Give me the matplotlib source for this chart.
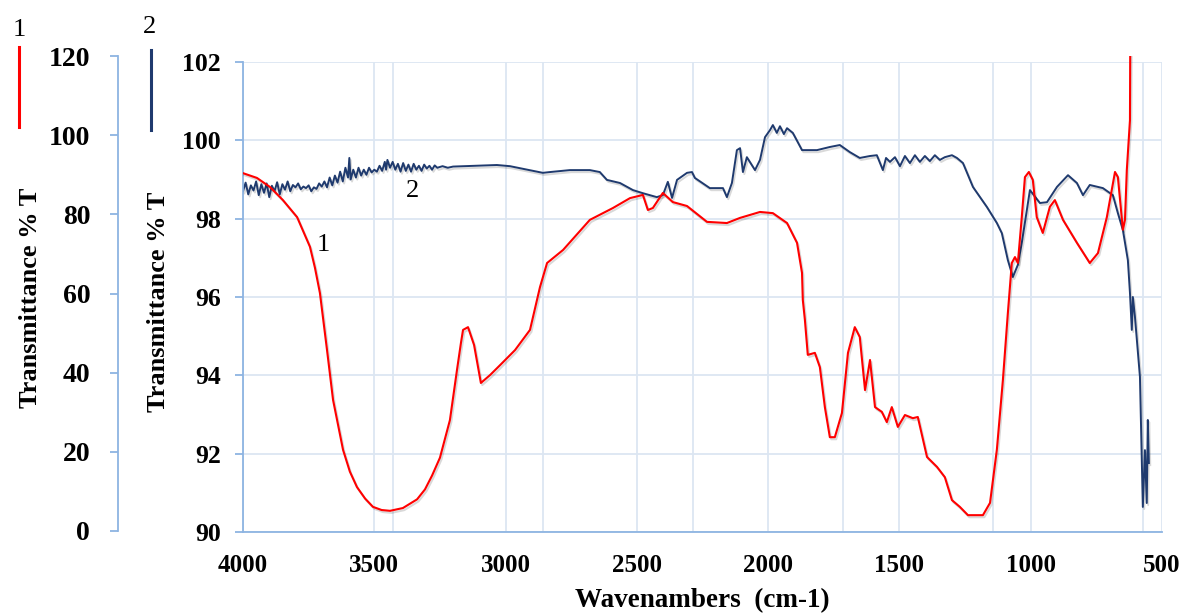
import matplotlib.pyplot as plt
import matplotlib.patheffects as pe
import numpy as np

plt.rcParams['font.family'] = ['Liberation Serif', 'DejaVu Serif']

# spectrum 1 (left axis, 0-120)
wn1 = [4000, 3947, 3897, 3848, 3794, 3745, 3726, 3707, 3680, 3657, 3619, 3593,
       3566, 3535, 3505, 3472, 3440, 3391, 3364, 3337, 3307, 3280, 3250, 3212,
       3185, 3170, 3162, 3143, 3120, 3094, 3059,
       3021, 2964, 2907, 2869, 2842, 2781, 2679, 2591, 2526, 2477, 2458, 2439,
       2401, 2363, 2309, 2233, 2157, 2107, 2031, 1982, 1928, 1890, 1871, 1868,
       1860, 1849, 1822, 1803, 1784, 1765, 1746, 1719, 1696, 1670, 1651, 1631,
       1612, 1593, 1567, 1548, 1529, 1506, 1479, 1449, 1430, 1395, 1357, 1327,
       1300, 1270, 1239, 1182, 1155, 1129, 1106, 1087, 1072, 1060, 1049, 1034,
       1022, 1007, 992, 977, 954, 927, 908, 877, 824, 775, 744, 710, 679, 668,
       649, 641, 634, 622, 621]
t1 = [90.4, 89.2, 86.9, 83.6, 79.3, 71.8, 66.5, 60.1, 45.7, 33.1, 20.5, 15.0,
      11.1, 8.2, 6.1, 5.3, 5.1, 5.8, 6.9, 8.0, 10.5, 14.0, 18.5, 28.0,
      40.7, 47.5, 50.8, 51.5, 47.0, 37.4, 39.4,
      41.9, 45.7, 50.8, 61.6, 67.7, 71.0, 78.6, 81.6, 84.1, 84.9, 81.1, 81.6,
      85.4, 83.1, 82.1, 78.1, 77.8, 79.1, 80.6, 80.3, 77.8, 72.8, 65.2, 58.4,
      53.3, 44.5, 45.0, 41.4, 31.3, 23.7, 23.7, 29.8, 45.0, 51.5, 49.0, 35.6,
      43.2, 31.3, 30.1, 27.5, 31.3, 26.3, 29.3, 28.5, 28.8, 18.7, 16.2, 13.6,
      7.8, 6.1, 4.0, 4.0, 7.1, 20.5, 38.1, 55.1, 67.7, 69.2, 67.7, 79.3,
      89.4, 90.7, 88.7, 79.3, 75.3, 81.9, 83.6, 78.6, 72.8, 67.7, 70.2, 79.3,
      90.7, 89.4, 76.1, 78.6, 91.2, 103.8, 122.0]

# spectrum 2 (right-hand scale, 90-102)
wn2 = [4000, 3990, 3980, 3970, 3960, 3950, 3940, 3930, 3920, 3910, 3900, 3890,
       3880, 3870, 3860, 3850, 3840, 3830, 3820, 3810, 3800, 3790, 3780, 3770,
       3760, 3750, 3740, 3730, 3720, 3710, 3700, 3690, 3680, 3670, 3660, 3650,
       3640, 3630, 3620, 3610, 3600, 3595, 3590, 3580, 3570, 3560, 3550, 3540,
       3530, 3520, 3510, 3500, 3490, 3480, 3470, 3460, 3455, 3450, 3440, 3430,
       3420, 3410, 3400, 3390, 3380, 3370, 3360, 3350, 3340, 3330, 3320, 3310,
       3300, 3290, 3280, 3270, 3260, 3240, 3220, 3200, 3033, 2983, 2858, 2831,
       2755, 2679, 2641, 2614, 2564, 2515, 2477, 2424, 2401, 2382, 2366, 2347,
       2309, 2290, 2279, 2222, 2172, 2157, 2138, 2119, 2107, 2096, 2081, 2050,
       2031, 2012, 1993, 1982, 1967, 1955, 1940, 1928, 1906, 1871, 1814, 1765,
       1727, 1689, 1651, 1612, 1586, 1574, 1563, 1551, 1536, 1517, 1498, 1479,
       1460, 1441, 1422, 1403, 1384, 1365, 1346, 1327, 1300, 1281, 1258, 1220,
       1167, 1129, 1110, 1087, 1068, 1049, 1034, 1003, 965, 938, 900, 858,
       824, 801, 775, 725, 687, 668, 649, 630, 622, 615, 611, 603,
       584, 577, 573, 565, 558, 554, 550]
t2 = [98.70, 98.92, 98.62, 98.85, 98.72, 98.95, 98.60, 98.88, 98.66, 98.90, 98.55, 98.84,
      98.70, 98.93, 98.62, 98.88, 98.74, 98.95, 98.70, 98.86, 98.80, 98.90, 98.75, 98.82,
      98.78, 98.85, 98.70, 98.80, 98.76, 98.90, 98.82, 98.95, 98.80, 99.05, 98.85, 99.10,
      98.92, 99.20, 98.95, 99.30, 99.05, 99.55, 99.00, 99.25, 99.05, 99.30, 99.10, 99.25,
      99.12, 99.30, 99.18, 99.25, 99.20, 99.35, 99.22, 99.45, 99.25, 99.50, 99.30, 99.45,
      99.25, 99.40, 99.20, 99.42, 99.22, 99.38, 99.20, 99.40, 99.25, 99.35, 99.22, 99.38,
      99.28, 99.35, 99.25, 99.36, 99.30, 99.34, 99.30, 99.33, 99.37, 99.34, 99.17, 99.19,
      99.24, 99.24, 99.19, 98.99, 98.91, 98.73, 98.65, 98.55, 98.60, 98.94, 98.53, 98.99,
      99.17, 99.19, 99.04, 98.78, 98.78, 98.55, 98.91, 99.75, 99.80, 99.19, 99.57, 99.24,
      99.50, 100.08, 100.26, 100.39, 100.19, 100.36, 100.16, 100.31, 100.19, 99.75, 99.75, 99.83,
      99.88, 99.70, 99.55, 99.60, 99.62, 99.42, 99.24, 99.55, 99.45, 99.57, 99.34, 99.60,
      99.42, 99.62, 99.45, 99.60, 99.47, 99.62, 99.50, 99.57, 99.62, 99.55, 99.42, 98.81,
      98.30, 97.89, 97.63, 96.94, 96.51, 96.82, 97.38, 98.73, 98.40, 98.42, 98.81, 99.11,
      98.91, 98.60, 98.86, 98.78, 98.60, 98.14, 97.71, 96.94, 96.10, 95.16, 96.00, 95.49,
      93.96, 91.91, 90.64, 92.09, 90.74, 92.86, 91.76]

x_ticks = [4000, 3500, 3000, 2500, 2000, 1500, 1000, 500]
x_grid2 = [3429, 2858, 2287, 1716, 1145, 574]
y1_ticks = [0, 20, 40, 60, 80, 100, 120]
y2_ticks = [90, 92, 94, 96, 98, 100, 102]

RED = '#ff0000'
NAVY = '#1f3a6e'
AXIS_BLUE = '#8db4e2'
GRID_BLUE = '#dce6f2'

fig = plt.figure(figsize=(11.85, 6.16), dpi=100)
W, H = 1185, 616
left, right = 243, 1162

# main axes (scale 90-102) with the grid
ax2 = fig.add_axes([left / W, 1 - 532 / H, (right - left) / W, (532 - 62) / H])
ax2.set_xlim(4000, 500)
ax2.set_ylim(90, 102)
ax2.set_xticks(x_ticks)
ax2.set_xticks(x_grid2, minor=True)
ax2.set_yticks(y2_ticks)
ax2.grid(True, which='major', color=GRID_BLUE, lw=1.3)
ax2.grid(True, which='minor', axis='x', color=GRID_BLUE, lw=1.3)
ax2.set_axisbelow(True)
for s in ['top', 'right']:
    ax2.spines[s].set_visible(False)
for s in ['left', 'bottom']:
    ax2.spines[s].set_color(AXIS_BLUE)
    ax2.spines[s].set_linewidth(1.3)
ax2.tick_params(axis='x', which='both', length=0, pad=16, labelsize=18)
ax2.tick_params(axis='y', length=6, width=1.3, color=AXIS_BLUE, pad=10, labelsize=18.5)
for lbl in ax2.get_xticklabels() + ax2.get_yticklabels():
    lbl.set_fontweight('bold')
ax2.set_xlabel('Wavenambers  (cm-1)', fontsize=19.5, fontweight='bold', labelpad=8)
ax2.set_ylabel('Transmittance % T', fontsize=19, fontweight='bold')
ax2.yaxis.set_label_coords(-0.079, 0.49)

shadow = [pe.SimpleLineShadow(offset=(1, -1.5), alpha=0.15, shadow_color='k'), pe.Normal()]
ax2.plot(wn2, t2, color=NAVY, lw=1.4, path_effects=shadow)

# spectrum 1 on its own 0-120 scale, axis pushed out to the left
ax1 = fig.add_axes([left / W, 1 - 531 / H, (right - left) / W, (531 - 56) / H])
ax1.patch.set_visible(False)
ax1.set_xlim(4000, 500)
ax1.set_ylim(0, 120)
ax1.set_yticks(y1_ticks)
ax1.set_xticks([])
for s in ['top', 'right', 'bottom']:
    ax1.spines[s].set_visible(False)
ax1.spines['left'].set_position(('axes', -0.136))
ax1.spines['left'].set_color(AXIS_BLUE)
ax1.spines['left'].set_linewidth(1.3)
ax1.tick_params(axis='y', length=6, width=1.3, color=AXIS_BLUE, pad=14, labelsize=20)
for lbl in ax1.get_yticklabels():
    lbl.set_fontweight('bold')
ax1.set_ylabel('Transmittance % T', fontsize=19, fontweight='bold')
ax1.yaxis.set_label_coords(-0.219, 0.49)
ax1.plot(wn1, t1, color=RED, lw=1.5, path_effects=shadow)

# curve numbers inside the plot
ax2.text(3695, 97.33, '1', fontsize=19, ha='center', va='center')
ax2.text(3355, 98.7, '2', fontsize=19, ha='center', va='center')

# series keys above the two axes
fig.text(19 / W, 1 - 30 / H, '1', fontsize=19, ha='center', va='center')
fig.text(150 / W, 1 - 27 / H, '2', fontsize=19, ha='center', va='center')
fig.add_artist(plt.Line2D([19 / W, 19 / W], [1 - 47 / H, 1 - 127 / H], color=RED, lw=2.2))
fig.add_artist(plt.Line2D([151 / W, 151 / W], [1 - 50 / H, 1 - 130 / H], color=NAVY, lw=2.2))

fig.savefig('out.png', dpi=100)
